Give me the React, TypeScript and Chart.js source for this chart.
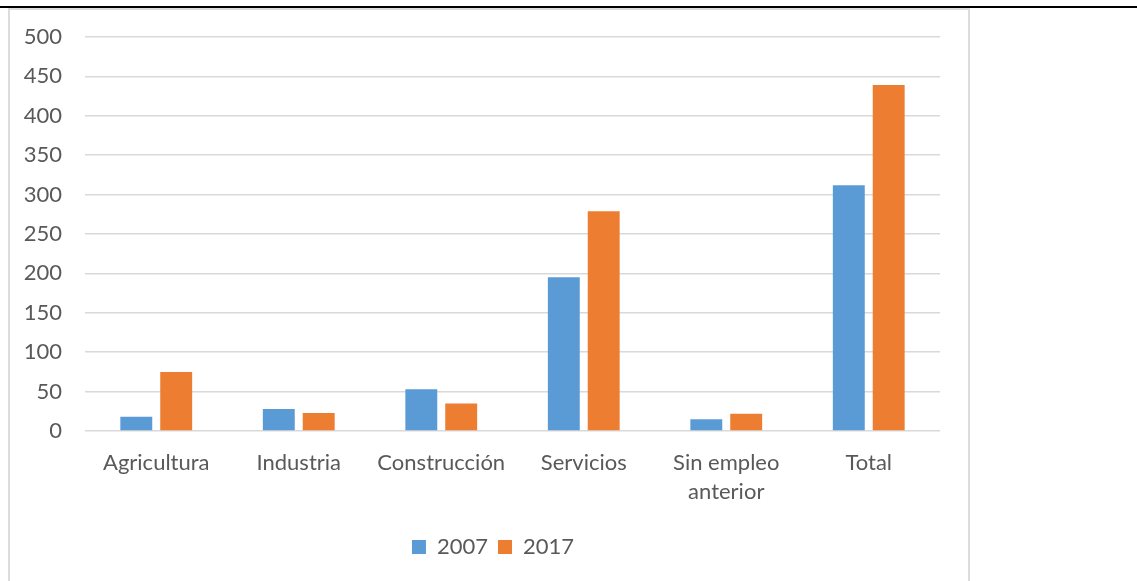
import React, { useEffect, useRef } from "react";
import { Chart, registerables } from "chart.js";

Chart.register(...registerables);

const categories: (string | string[])[] = [
  "Agricultura",
  "Industria",
  "Construcción",
  "Servicios",
  ["Sin empleo", "anterior"],
  "Total",
];
const series2007 = [18, 28, 53, 195, 15, 312];
const series2017 = [75, 23, 35, 279, 22, 439];
const seriesLabels = ["2007", "2017"];
const yTicks = { min: 0, max: 500, step: 50 };

const FONT = "Lato, 'Noto Sans', sans-serif";
const TEXT = "#595959";

const legendShift = {
  id: "legendShift",
  afterLayout(chart: any) {
    if (chart.legend) {
      chart.legend.left += 18;
      chart.legend.right += 18;
    }
  },
};

export default function App() {
  const ref = useRef<HTMLCanvasElement | null>(null);

  useEffect(() => {
    if (!ref.current) return;
    const chart = new Chart(ref.current, {
      type: "bar",
      plugins: [legendShift],
      data: {
        labels: categories,
        datasets: [
          {
            label: seriesLabels[0],
            data: series2007,
            backgroundColor: "#5B9BD5",
            barPercentage: 0.8,
            categoryPercentage: 0.56,
          },
          {
            label: seriesLabels[1],
            data: series2017,
            backgroundColor: "#ED7D31",
            barPercentage: 0.8,
            categoryPercentage: 0.56,
          },
        ],
      },
      options: {
        animation: false,
        responsive: false,
        maintainAspectRatio: false,
        layout: { padding: { left: 0, right: 28, top: 27, bottom: 13 } },
        plugins: {
          legend: {
            position: "bottom",
            labels: {
              boxWidth: 14,
              boxHeight: 14,
              padding: 10,
              color: TEXT,
              font: { family: FONT, size: 22 },
            },
          },
          tooltip: { enabled: false },
          title: { display: false },
        },
        scales: {
          x: {
            grid: { display: false, drawTicks: false },
            border: { display: false },
            ticks: {
              color: TEXT,
              font: { family: FONT, size: 22, lineHeight: 1.33 },
              padding: 17,
              maxRotation: 0,
              autoSkip: false,
            },
            afterFit: (scale: any) => {
              scale.height = 95;
            },
          },
          y: {
            min: yTicks.min,
            max: yTicks.max,
            grid: { color: "#d9d9d9", lineWidth: 1.5, drawTicks: false },
            border: { display: false },
            ticks: {
              stepSize: yTicks.step,
              color: TEXT,
              font: { family: FONT, size: 22 },
              padding: 23,
            },
            afterFit: (scale: any) => {
              scale.width = 75;
              scale.paddingTop = 10;
              scale.paddingBottom = 10;
            },
          },
        },
      },
    });
    return () => chart.destroy();
  }, []);

  return (
    <div
      style={{
        position: "fixed",
        left: 0,
        top: 0,
        width: 1137,
        height: 581,
        background: "#fff",
        overflow: "hidden",
      }}
    >
      <div
        style={{
          position: "absolute",
          left: 8,
          top: 8,
          width: 958,
          height: 620,
          border: "2px solid #dcdcdc",
          background: "#fff",
        }}
      >
        <canvas
          ref={ref}
          width={958}
          height={571}
          style={{ position: "absolute", left: 0, top: 0, width: 958, height: 571 }}
        />
      </div>
      <div
        style={{
          position: "absolute",
          left: 0,
          top: 6,
          width: 1137,
          height: 2,
          background: "#000",
        }}
      />
    </div>
  );
}
